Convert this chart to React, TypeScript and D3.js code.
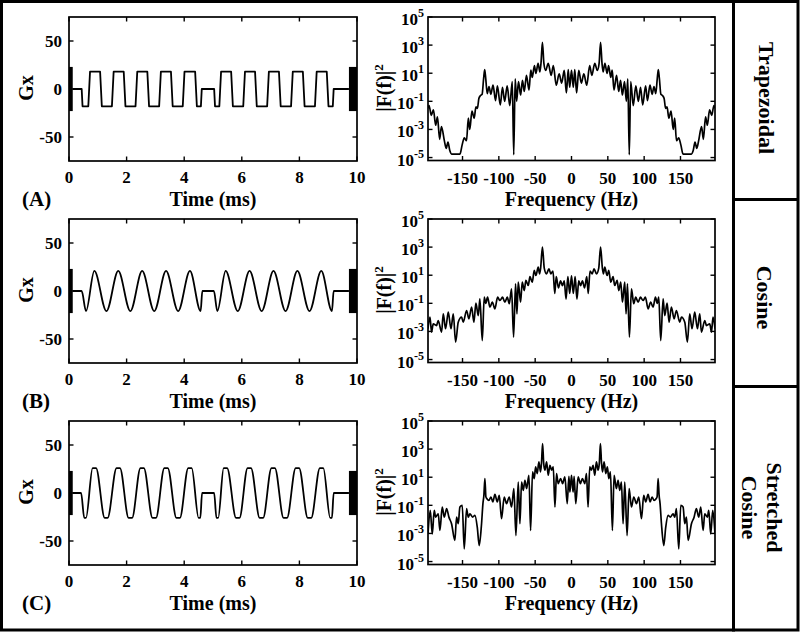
import React from 'react';
import * as d3 from 'd3';

// ---------- data ----------
const timeTicks = [0, 2, 4, 6, 8, 10];
const gxTicks = [-50, 0, 50];
const freqTicks = [-150, -100, -50, 0, 50, 100, 150];
const logTickExps = [-5, -3, -1, 1, 3, 5];
const panelLetters = ['(A)', '(B)', '(C)'];
const rowLabels = [['Trapezoidal'], ['Cosine'], ['Stretched', 'Cosine']];

// gradient waveforms: [time (ms), Gx]
const trapezoidal: [number, number][] = [
  [0.13, 0], [0.44, 0], [0.47, -18], [0.67, -18], [0.73, 18], [1.08, 18], [1.14, -18], [1.49, -18],
  [1.55, 18], [1.9, 18], [1.96, -18], [2.31, -18], [2.37, 18], [2.72, 18], [2.78, -18], [3.13, -18],
  [3.19, 18], [3.54, 18], [3.6, -18], [3.95, -18], [4.01, 18], [4.38, 18], [4.44, -18], [4.58, -18],
  [4.61, 0], [5.04, 0], [5.07, -18], [5.22, -18], [5.28, 18], [5.63, 18], [5.69, -18], [6.05, -18],
  [6.11, 18], [6.46, 18], [6.52, -18], [6.88, -18], [6.94, 18], [7.29, 18], [7.35, -18], [7.71, -18],
  [7.77, 18], [8.12, 18], [8.18, -18], [8.54, -18], [8.6, 18], [8.95, 18], [9.01, -18], [9.16, -18],
  [9.19, 0], [9.72, 0],
];
const cosine: [number, number][] = [
  [0.13, 0], [0.44, 0], [0.59, -21], [0.88, 21], [1.3, -21], [1.71, 21], [2.13, -21], [2.54, 21],
  [2.96, -21], [3.37, 21], [3.79, -21], [4.2, 21], [4.57, -21], [4.63, 0], [5.03, 0], [5.15, -21],
  [5.44, 21], [5.86, -21], [6.27, 21], [6.69, -21], [7.1, 21], [7.52, -21], [7.93, 21], [8.35, -21],
  [8.76, 21], [9.13, -21], [9.19, 0], [9.72, 0],
];
const stretchedCosine: [number, number][] = [
  [0.13, 0], [0.42, 0], [0.53, -26], [0.59, -26], [0.82, 26], [0.94, 26], [1.24, -26], [1.34, -26],
  [1.65, 26], [1.77, 26], [2.07, -26], [2.19, -26], [2.48, 26], [2.6, 26], [2.9, -26], [3.02, -26],
  [3.31, 26], [3.43, 26], [3.73, -26], [3.85, -26], [4.14, 26], [4.26, 26], [4.5, -26], [4.56, -26],
  [4.62, 0], [5.04, 0], [5.12, -26], [5.18, -26], [5.37, 26], [5.49, 26], [5.8, -26], [5.92, -26],
  [6.2, 26], [6.32, 26], [6.62, -26], [6.74, -26], [7.03, 26], [7.15, 26], [7.45, -26], [7.57, -26],
  [7.87, 26], [7.99, 26], [8.29, -26], [8.41, -26], [8.71, 26], [8.83, 26], [9.07, -26], [9.13, -26],
  [9.19, 0], [9.72, 0],
];
// dense blips at start / end: [t0, t1]
const blips: [number, number][] = [[0, 0.13], [9.72, 10]];
const blipAmp = 23;

// spectra, positive-frequency half: [f (Hz), log10 |F(f)|^2]
const spectrumA: [number, number][] = [
  [0, 1.2], [2.5, 0.0], [4.5, 1.25], [7, -0.4], [10, 1.2], [13.5, 0.3], [17, 0.95], [21, 0.15],
  [25, 1.55], [28, 0.85], [32, 1.7], [35.5, 1.2], [38, 1.7], [40, 3.2], [42, 1.7], [43.5, 1.1],
  [46, 1.7], [49, 0.98], [51, 1.55], [54, 0.7], [56, 1.22], [58.5, -0.2], [62, 0.85], [65, -0.3],
  [67.5, 0.5], [70, -0.55], [73, 0.4], [75.5, -1.0], [77.5, 0.6], [79.5, -4.8], [81.5, 0.4], [85, -1.3],
  [88.5, 0.1], [92, -1.0], [95, 0.0], [98, -1.25], [102, 0.1], [104.5, -0.95], [108, 0.15], [111, -0.5],
  [113.5, 0.05], [116, -0.45], [118, 0.6], [119.5, 1.25], [121, 0.6], [123, -0.5], [125.5, -0.6],
  [127.5, -0.8], [129.5, -1.5], [131.5, -1.4], [134, -2.2], [137, -1.7], [140, -3.0], [142, -2.2],
  [144.5, -3.8], [147.5, -3.6], [150.5, -4.1], [153.5, -4.75], [165, -4.75], [167.5, -4.5], [170, -3.9],
  [172.5, -4.35], [175, -3.8], [179, -2.8], [181.5, -3.7], [184.5, -2.1], [187, -2.7], [190, -1.6],
  [193, -2.0], [196, -1.3], [197.5, -1.5],
];
const spectrumB: [number, number][] = [
  [0, 0.95], [2.5, -0.3], [5, 0.9], [7.5, -0.7], [10, 0.6], [12.5, 0.25], [15, 0.6], [18, 0.1],
  [21, 0.9], [23, -0.3], [25.5, 1.3], [28.5, 1.1], [31, 1.45], [34.5, 1.1], [37.5, 1.5], [40, 3.0],
  [42.5, 1.5], [44, 1.1], [45.8, 1.57], [49, 0.98], [51.3, 1.34], [54, 0.5], [57.2, 0.9], [59.5, 0.27],
  [62.8, 0.63], [65, -0.09], [67.8, 0.51], [70.1, -0.92], [73.3, 0.51], [75.1, -1.75], [77, 0.39],
  [79.7, -3.4], [82.5, 0.03], [85.7, -1.03], [88.4, -0.56], [91.7, -0.92], [94.9, -0.56], [98.5, -0.8],
  [101.7, -0.56], [105.4, -1.39], [109, -0.92], [112.3, -1.27], [115.5, -0.56], [118, -1.0],
  [120.1, -0.56], [122.8, -3.65], [126.1, -0.68], [128.3, -1.87], [131.6, -0.99], [134.3, -2.34],
  [137.5, -1.27], [141.2, -2.1], [144.4, -1.51], [149, -2.34], [151.3, -1.98], [155.9, -2.34],
  [159.5, -3.76], [162.7, -1.75], [165.9, -2.81], [169.6, -1.63], [173.3, -2.81], [176.5, -1.75],
  [178.8, -3.05], [183.4, -2.22], [185.7, -2.58], [190.3, -2.46], [192.6, -3.05], [194.8, -1.98],
  [197.5, -2.81],
];
const spectrumC: [number, number][] = [
  [0, 1.14], [2.2, -0.05], [3.6, 1.07], [5.9, -0.88], [9.1, 1.02], [12.3, 0.55], [15, 0.9], [18.3, 0.55],
  [20.6, 1.26], [22.8, -1.12], [25.1, 1.74], [27.4, 1.5], [29.7, 1.85], [32, 1.14], [34.3, 2.09],
  [36.6, 1.5], [38.3, 2.0], [39.8, 3.4], [41.3, 2.0], [42.6, 1.38], [44.9, 2.09], [47.2, 1.26],
  [49.4, 1.74], [51.3, 0.9], [53.6, 1.38], [56.3, -2.79], [58.6, 1.14], [61.8, 0.19], [64.1, 0.78],
  [66.4, 0.07], [68.7, 0.66], [71, -2.31], [73.3, 0.66], [76.5, -3.15], [79.3, 0.19], [82.5, -1.12],
  [85.7, -0.41], [89.4, -0.88], [92.6, -0.41], [96.3, -1.95], [99.4, -0.29], [102.2, -0.76],
  [105.4, -0.22], [108.2, -0.76], [110.9, -0.41], [113.7, -0.65], [116.4, -0.53], [117.8, -0.4],
  [119.2, 0.9], [120.6, -0.3], [121.9, -0.88], [123.8, -2.31], [127, -3.86], [129.7, -2.55],
  [132.9, -1.72], [136.1, -1.84], [139.8, -1.6], [142.1, -1.84], [144.4, -1.24], [147.6, -4.1],
  [150.4, -1.0], [153.6, -1.12], [155.9, -2.31], [158.2, -1.84], [160.5, -3.5], [165.1, -2.31],
  [168.7, -1.84], [171.9, -1.24], [175.1, -1.84], [177.9, -1.12], [181.1, -2.79], [183.4, -1.6],
  [187, -1.84], [188.9, -1.36], [191.6, -3.03], [194.4, -1.36], [197.5, -3.03],
];

const waveforms = [trapezoidal, cosine, stretchedCosine];
const spectra = [spectrumA, spectrumB, spectrumC];

// ---------- layout ----------
const W = 800;
const H = 633;
const LX0 = 69, LX1 = 357, RX0 = 428, RX1 = 715;
const ROW_TOP = [17, 219, 421];
const PH_L = 144;
const PH_R = 143.5;
const FONT = '"Liberation Serif", "Times New Roman", serif';
const TICK = 4.5;

function Row({ i }: { i: number }) {
  const top = ROW_TOP[i];
  const xL = d3.scaleLinear().domain([0, 10]).range([LX0, LX1]);
  const yL = d3.scaleLinear().domain([-75, 75]).range([top + PH_L, top]);
  const xR = d3.scaleLinear().domain([-197.5, 197.5]).range([RX0, RX1]);
  const yR = d3.scaleLog().domain([Math.pow(10, -5.21), 1e5]).range([top + PH_R, top]);

  const wf = waveforms[i];
  const wLine = d3
    .line<[number, number]>()
    .x((d) => xL(d[0]))
    .y((d) => yL(d[1]))
    .curve(i === 0 ? d3.curveLinear : d3.curveMonotoneX);

  const half = spectra[i];
  const full: [number, number][] = [
    ...half.slice(1).map(([f, v]) => [-f, v] as [number, number]).reverse(),
    ...half,
  ];
  const sLine = d3
    .line<[number, number]>()
    .x((d) => xR(d[0]))
    .y((d) => yR(Math.pow(10, d[1])))
    .curve(d3.curveMonotoneX);

  const bL = top + PH_L;
  const bR = top + PH_R;
  const clipId = `clipR${i}`;

  return (
    <g>
      <defs>
        <clipPath id={clipId}>
          <rect x={RX0} y={top} width={RX1 - RX0} height={PH_R} />
        </clipPath>
      </defs>
      {/* ---- left panel ---- */}
      <path d={wLine(wf) || ''} fill="none" stroke="#000" strokeWidth={1.8} strokeLinejoin="round" />
      {blips.map(([t0, t1], k) => (
        <rect key={k} x={xL(t0)} y={yL(blipAmp)} width={xL(t1) - xL(t0)} height={yL(-blipAmp) - yL(blipAmp)} fill="#000" />
      ))}
      <rect x={LX0} y={top} width={LX1 - LX0} height={PH_L} fill="none" stroke="#000" strokeWidth={1.7} />
      {timeTicks.map((t) => (
        <g key={t}>
          <line x1={xL(t)} x2={xL(t)} y1={bL} y2={bL - TICK} stroke="#000" strokeWidth={1.4} />
          <line x1={xL(t)} x2={xL(t)} y1={top} y2={top + TICK} stroke="#000" strokeWidth={1.4} />
          <text x={xL(t)} y={top + 166} textAnchor="middle" fontSize={17}>{t}</text>
        </g>
      ))}
      {gxTicks.map((v) => (
        <g key={v}>
          <line x1={LX0} x2={LX0 + TICK} y1={yL(v)} y2={yL(v)} stroke="#000" strokeWidth={1.4} />
          <line x1={LX1} x2={LX1 - TICK} y1={yL(v)} y2={yL(v)} stroke="#000" strokeWidth={1.4} />
          <text x={LX0 - 7} y={yL(v) + 6} textAnchor="end" fontSize={17}>{v}</text>
        </g>
      ))}
      <text x={(LX0 + LX1) / 2} y={top + 188.5} textAnchor="middle" fontSize={20}>Time (ms)</text>
      <text transform={`translate(32.5,${top + 71}) rotate(-90)`} textAnchor="middle" fontSize={20}>Gx</text>
      <text x={22} y={top + 188.5} fontSize={21}>{panelLetters[i]}</text>

      {/* ---- right panel ---- */}
      <path d={sLine(full) || ''} fill="none" stroke="#000" strokeWidth={1.7} strokeLinejoin="round" clipPath={`url(#${clipId})`} />
      <rect x={RX0} y={top} width={RX1 - RX0} height={PH_R} fill="none" stroke="#000" strokeWidth={1.7} />
      {freqTicks.map((f) => (
        <g key={f}>
          <line x1={xR(f)} x2={xR(f)} y1={bR} y2={bR - TICK} stroke="#000" strokeWidth={1.4} />
          <line x1={xR(f)} x2={xR(f)} y1={top} y2={top + TICK} stroke="#000" strokeWidth={1.4} />
          <text x={xR(f)} y={top + 166.5} textAnchor="middle" fontSize={17}>{f}</text>
        </g>
      ))}
      {logTickExps.map((e) => {
        const y = yR(Math.pow(10, e));
        return (
          <g key={e}>
            <line x1={RX0} x2={RX0 + TICK} y1={y} y2={y} stroke="#000" strokeWidth={1.4} />
            <line x1={RX1} x2={RX1 - TICK} y1={y} y2={y} stroke="#000" strokeWidth={1.4} />
            <text x={RX0 - 4} y={y + 8} textAnchor="end" fontSize={17}>
              10<tspan dy={-8} fontSize={12}>{e}</tspan>
            </text>
          </g>
        );
      })}
      <text x={(RX0 + RX1) / 2} y={top + 189} textAnchor="middle" fontSize={20}>Frequency (Hz)</text>
      <text transform={`translate(391,${top + 71}) rotate(-90)`} textAnchor="middle" fontSize={20}>
        |F(f)|<tspan dy={-8} fontSize={13}>2</tspan>
      </text>
    </g>
  );
}

export default function App() {
  const labelPos = [
    { cy: 98, xs: [759] },
    { cy: 297.5, xs: [757] },
    { cy: 507.5, xs: [766.5, 741.5] },
  ];
  return (
    <svg
      width={W}
      height={H}
      viewBox={`0 0 ${W} ${H}`}
      style={{ position: 'absolute', left: 0, top: 0, background: '#fff' }}
      fontFamily={FONT}
      fontWeight="bold"
    >
      <rect x={0} y={0} width={W} height={H} fill="#fff" />
      {[0, 1, 2].map((i) => (
        <Row key={i} i={i} />
      ))}
      {/* frame */}
      <rect x={1.5} y={1.5} width={796.5} height={628.5} fill="none" stroke="#000" strokeWidth={3} />
      <line x1={733.5} x2={733.5} y1={0} y2={631.5} stroke="#000" strokeWidth={3} />
      <line x1={733} x2={799} y1={199.5} y2={199.5} stroke="#000" strokeWidth={3} />
      <line x1={733} x2={799} y1={386.5} y2={386.5} stroke="#000" strokeWidth={3} />
      {rowLabels.map((lines, i) =>
        lines.map((s, k) => (
          <text
            key={`${i}-${k}`}
            transform={`translate(${labelPos[i].xs[k]},${labelPos[i].cy}) rotate(90)`}
            textAnchor="middle"
            fontSize={22}
          >
            {s}
          </text>
        ))
      )}
    </svg>
  );
}
